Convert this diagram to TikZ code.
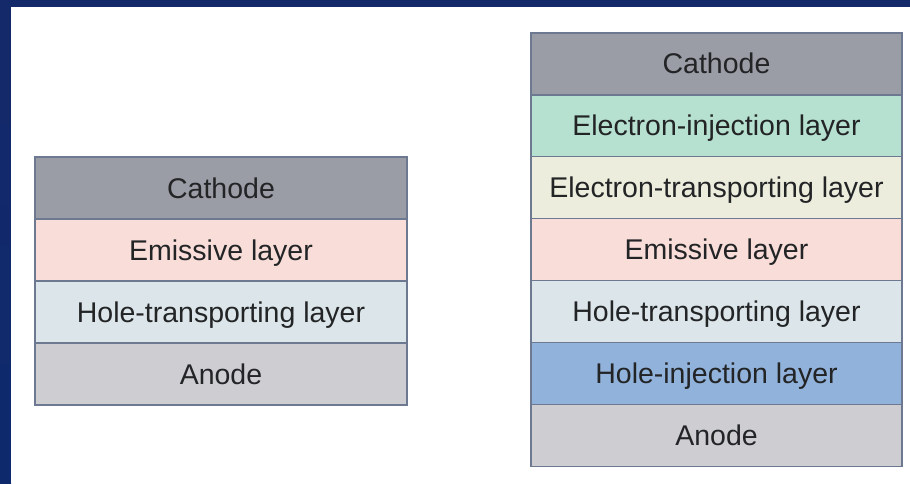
\documentclass[tikz,border=0pt]{standalone}
\usepackage{fontspec}
\setmainfont{Liberation Sans}
\usetikzlibrary{positioning}
\definecolor{frameblue}{HTML}{14296A}
\definecolor{framemid}{HTML}{1D4796}
\definecolor{framelow}{HTML}{0E2A6C}
\definecolor{layerline}{HTML}{6C7990}
\definecolor{textdark}{HTML}{222426}
\definecolor{cathodegrey}{HTML}{9B9DA6}
\definecolor{eilgreen}{HTML}{B6E0CF}
\definecolor{etlcream}{HTML}{ECEDDC}
\definecolor{emlpink}{HTML}{F8DDD8}
\definecolor{htlblue}{HTML}{DCE5E9}
\definecolor{hilblue}{HTML}{91B2DA}
\definecolor{anodegrey}{HTML}{CECED2}
\begin{document}
\begin{tikzpicture}[x=1pt,y=1pt,node distance=0pt,
	layer/.style={draw=layerline,line width=1.2pt,minimum width=372pt,minimum height=62pt,
		inner sep=0pt,outer sep=0pt,text height=20pt,text depth=0pt,
		text=textdark,font=\fontsize{28.5}{32}\selectfont}]
	\useasboundingbox (0,0) rectangle (910,483);
	% frame
	\fill[frameblue] (0,0) rectangle (910,483);
	\shade[top color=frameblue,middle color=framemid,bottom color=framelow] (0,0) rectangle (11,476);
	\fill[white] (11,0) rectangle (910,476);
	% simple device
	\node[layer,fill=cathodegrey] (lcath) at (221,295) {Cathode};
	\node[layer,fill=emlpink,below=of lcath] (lemis) {Emissive layer};
	\node[layer,fill=htlblue,below=of lemis] (lhtl) {Hole-transporting layer};
	\node[layer,fill=anodegrey,below=of lhtl] (lanode) {Anode};
	% multilayer device
	\begin{scope}[layer/.append style={minimum width=371pt,minimum height=61.9pt}]
		\node[layer,fill=cathodegrey] (rcath) at (716.5,419) {Cathode};
		\node[layer,fill=eilgreen,below=of rcath] (reil) {Electron-injection layer};
		\node[layer,fill=etlcream,below=of reil] (retl) {Electron-transporting layer};
		\node[layer,fill=emlpink,below=of retl] (remis) {Emissive layer};
		\node[layer,fill=htlblue,below=of remis] (rhtl) {Hole-transporting layer};
		\node[layer,fill=hilblue,below=of rhtl] (rhil) {Hole-injection layer};
		\node[layer,fill=anodegrey,below=of rhil] (ranode) {Anode};
	\end{scope}
\end{tikzpicture}
\end{document}
